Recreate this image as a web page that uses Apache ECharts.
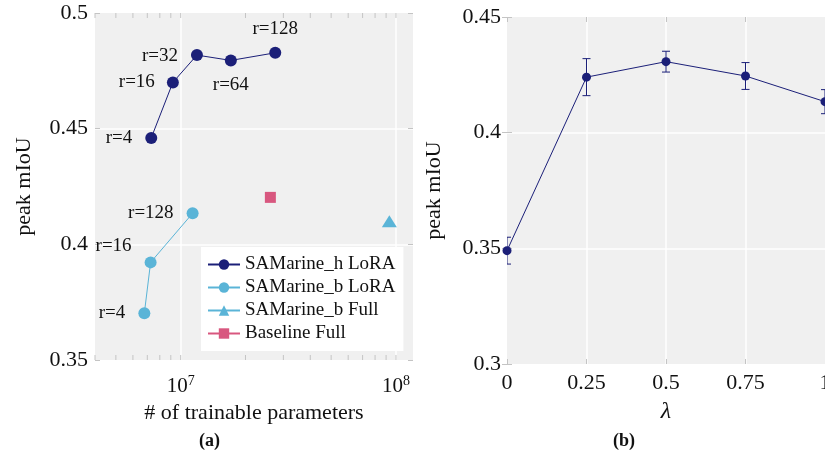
<!DOCTYPE html>
<html>
<head>
<meta charset="utf-8">
<script src="https://cdn.jsdelivr.net/npm/echarts@6/dist/echarts.min.js"></script>
<style>
  html, body { margin: 0; padding: 0; background: #ffffff; }
  #chart { width: 825px; height: 453px; }
</style>
</head>
<body>
<div id="chart"></div>
<script>
// ---------- data (panel a) ----------
const hParams = [7.3e6, 9.2e6, 1.19e7, 1.71e7, 2.75e7];
const hMiou = [0.446, 0.470, 0.4818, 0.4795, 0.4828];
const hRanks = ['r=4', 'r=16', 'r=32', 'r=64', 'r=128'];

const bParams = [6.78e6, 7.25e6, 1.136e7];
const bMiou = [0.3702, 0.3922, 0.4134];
const bRanks = ['r=4', 'r=16', 'r=128'];

const bFullParams = [9.32e7];
const bFullMiou = [0.410];

const baseParams = [2.61e7];
const baseMiou = [0.4203];

const seriesNames = ['SAMarine_h LoRA', 'SAMarine_b LoRA', 'SAMarine_b Full', 'Baseline Full'];
const xTickValues = [4e6, 5e6, 6e6, 7e6, 8e6, 9e6, 1e7, 2e7, 3e7, 4e7, 5e7, 6e7, 7e7, 8e7, 9e7, 1e8];

// ---------- data (panel b) ----------
const lambdas = [0, 0.25, 0.5, 0.75, 1];
const lambdaLabels = ['0', '0.25', '0.5', '0.75', '1'];
const lamMiou = [0.349, 0.424, 0.4307, 0.4245, 0.4134];
const lamErr = [0.0058, 0.008, 0.0045, 0.0058, 0.0052];

// ---------- styling / layout ----------
const NAVY = '#1b1f78';
const LIGHT = '#5ab4d7';
const PINK = '#d8577f';
const BG = '#f0f0f0';
const TICK = '#c4c4c4';
const FONT = '"Liberation Serif", "DejaVu Serif", serif';

const hLabelLayout = [
  { position: 'left', distance: 13, offset: [0, 0] },
  { position: 'left', distance: 12, offset: [0, 0] },
  { position: 'left', distance: 13, offset: [0, 1] },
  { position: 'bottom', distance: 9, offset: [0, 0] },
  { position: 'top', distance: 8, offset: [0, 0] }
];
const bLabelLayout = [
  { position: 'left', distance: 13, offset: [0, 0] },
  { position: 'left', distance: 13, offset: [0, -16] },
  { position: 'left', distance: 13, offset: [0, 0] }
];

const X_MIN = 4e6, X_MAX = 1.2e8, Y_MIN_A = 0.35, Y_MAX_A = 0.5;

function labeled(xs, ys, names, layout) {
  return xs.map((x, i) => ({
    value: [x, ys[i]],
    name: names[i],
    label: {
      show: true,
      formatter: names[i],
      position: layout[i].position,
      distance: layout[i].distance,
      offset: layout[i].offset,
      fontFamily: FONT,
      fontSize: 19,
      color: '#111'
    }
  }));
}

const chart = echarts.init(document.getElementById('chart'), null, { renderer: 'canvas' });

const axisLabelFont = { fontFamily: FONT, fontSize: 22, color: '#111' };

const option = {
  animation: false,
  backgroundColor: '#ffffff',
  grid: [
    { left: 95, top: 13, width: 318, height: 347, show: true, backgroundColor: BG, borderWidth: 0, containLabel: false, outerBoundsMode: 'none' },
    { left: 507, top: 17, width: 318, height: 347, show: true, backgroundColor: BG, borderWidth: 0, containLabel: false, outerBoundsMode: 'none' }
  ],
  legend: {
    orient: 'vertical',
    left: 201,
    top: 247,
    width: 202,
    backgroundColor: '#ffffff',
    padding: [8, 8, 8, 6],
    itemWidth: 32,
    itemHeight: 13,
    itemGap: 4,
    data: seriesNames,
    textStyle: { fontFamily: FONT, fontSize: 19, color: '#111', lineHeight: 19 }
  },
  xAxis: [
    {
      gridIndex: 0, type: 'log', logBase: 10, min: X_MIN, max: X_MAX, position: 'bottom',
      name: '# of trainable parameters', nameLocation: 'middle', nameGap: 42,
      nameTextStyle: { fontFamily: FONT, fontSize: 22, color: '#111' },
      axisLine: { show: false },
      axisTick: { show: false },
      splitLine: { show: true, showMinLine: false, showMaxLine: false, lineStyle: { color: '#ffffff', width: 1.5 } },
      axisLabel: {
        margin: 14,
        formatter: function (v) {
          const e = Math.log10(v);
          if (Math.abs(e - Math.round(e)) < 1e-6) return '10{s|' + Math.round(e) + '}';
          return '';
        },
        fontFamily: FONT, fontSize: 21, color: '#111',
        rich: { s: { fontFamily: FONT, fontSize: 14, color: '#111', verticalAlign: 'top', padding: [0, 0, 10, 0] } }
      }
    },
    {
      gridIndex: 0, type: 'log', logBase: 10, min: X_MIN, max: X_MAX, position: 'top',
      axisLine: { show: false }, axisTick: { show: false }, axisLabel: { show: false }, splitLine: { show: false }
    },
    {
      gridIndex: 1, type: 'value', min: 0, max: 1, interval: 0.25, position: 'bottom',
      name: 'λ', nameLocation: 'middle', nameGap: 36,
      nameTextStyle: { fontFamily: FONT, fontSize: 24, fontStyle: 'italic', color: '#111' },
      axisLine: { show: false },
      axisTick: { show: true, inside: true, length: 5, lineStyle: { color: TICK } },
      splitLine: { show: true, showMinLine: false, showMaxLine: false, lineStyle: { color: '#ffffff', width: 1.5 } },
      axisLabel: Object.assign({ margin: 8, alignMaxLabel: 'center', hideOverlap: false, formatter: function (v) { const k = lambdas.indexOf(v); return k >= 0 ? lambdaLabels[k] : String(v); } }, axisLabelFont)
    },
    {
      gridIndex: 1, type: 'value', min: 0, max: 1, interval: 0.25, position: 'top',
      axisLine: { show: false },
      axisTick: { show: true, inside: true, length: 5, lineStyle: { color: TICK } },
      axisLabel: { show: false }, splitLine: { show: false }
    }
  ],
  yAxis: [
    {
      gridIndex: 0, type: 'value', min: Y_MIN_A, max: Y_MAX_A, interval: 0.05, position: 'left',
      name: 'peak mIoU', nameLocation: 'middle', nameGap: 60,
      nameTextStyle: { fontFamily: FONT, fontSize: 22, color: '#111' },
      axisLine: { show: false },
      axisTick: { show: true, inside: true, length: 5, lineStyle: { color: TICK } },
      splitLine: { show: true, showMinLine: false, showMaxLine: false, lineStyle: { color: '#ffffff', width: 1.5 } },
      axisLabel: Object.assign({ margin: 7 }, axisLabelFont)
    },
    {
      gridIndex: 0, type: 'value', min: Y_MIN_A, max: Y_MAX_A, interval: 0.05, position: 'right',
      axisLine: { show: false },
      axisTick: { show: true, inside: true, length: 5, lineStyle: { color: TICK } },
      axisLabel: { show: false }, splitLine: { show: false }
    },
    {
      gridIndex: 1, type: 'value', min: 0.3, max: 0.45, interval: 0.05, position: 'left',
      name: 'peak mIoU', nameLocation: 'middle', nameGap: 62,
      nameTextStyle: { fontFamily: FONT, fontSize: 22, color: '#111' },
      axisLine: { show: false },
      axisTick: { show: true, inside: true, length: 5, lineStyle: { color: TICK } },
      splitLine: { show: true, showMinLine: false, showMaxLine: false, lineStyle: { color: '#ffffff', width: 1.5 } },
      axisLabel: Object.assign({ margin: 6 }, axisLabelFont)
    },
    {
      gridIndex: 1, type: 'value', min: 0.3, max: 0.45, interval: 0.05, position: 'right',
      axisLine: { show: false },
      axisTick: { show: true, inside: true, length: 5, lineStyle: { color: TICK } },
      axisLabel: { show: false }, splitLine: { show: false }
    }
  ],
  series: [
    {
      type: 'custom', name: 'xticks', xAxisIndex: 0, yAxisIndex: 0, silent: true, z: 1,
      data: xTickValues.map(v => [v, Y_MIN_A]),
      renderItem: function (params, api) {
        const v = api.value(0);
        const b = api.coord([v, Y_MIN_A]);
        const t = api.coord([v, Y_MAX_A]);
        const st = { stroke: TICK, lineWidth: 1 };
        return {
          type: 'group',
          children: [
            { type: 'line', shape: { x1: b[0], y1: b[1], x2: b[0], y2: b[1] - 5 }, style: st },
            { type: 'line', shape: { x1: t[0], y1: t[1], x2: t[0], y2: t[1] + 5 }, style: st }
          ]
        };
      }
    },
    {
      type: 'line', name: seriesNames[0], xAxisIndex: 0, yAxisIndex: 0, z: 5,
      data: labeled(hParams, hMiou, hRanks, hLabelLayout),
      symbol: 'circle', symbolSize: 12,
      itemStyle: { color: NAVY },
      lineStyle: { color: NAVY, width: 1 }
    },
    {
      type: 'line', name: seriesNames[1], xAxisIndex: 0, yAxisIndex: 0, z: 5,
      data: labeled(bParams, bMiou, bRanks, bLabelLayout),
      symbol: 'circle', symbolSize: 12,
      itemStyle: { color: LIGHT },
      lineStyle: { color: LIGHT, width: 1 }
    },
    {
      type: 'line', name: seriesNames[2], xAxisIndex: 0, yAxisIndex: 0, z: 5,
      data: bFullParams.map((x, i) => [x, bFullMiou[i]]),
      symbol: 'triangle', symbolSize: [15, 12],
      itemStyle: { color: LIGHT },
      lineStyle: { color: LIGHT, width: 1 }
    },
    {
      type: 'line', name: seriesNames[3], xAxisIndex: 0, yAxisIndex: 0, z: 5,
      data: baseParams.map((x, i) => [x, baseMiou[i]]),
      symbol: 'rect', symbolSize: 11,
      itemStyle: { color: PINK },
      lineStyle: { color: PINK, width: 1 }
    },
    {
      type: 'custom', name: 'errbars', xAxisIndex: 2, yAxisIndex: 2, silent: true, z: 4, clip: true,
      data: lambdas.map((x, i) => [x, lamMiou[i] - lamErr[i], lamMiou[i] + lamErr[i]]),
      renderItem: function (params, api) {
        const lo = api.coord([api.value(0), api.value(1)]);
        const hi = api.coord([api.value(0), api.value(2)]);
        const w = 4;
        const st = { stroke: NAVY, lineWidth: 1 };
        const left = params.coordSys.x;
        const right = params.coordSys.x + params.coordSys.width;
        const x1 = Math.max(lo[0] - w, left), x2 = Math.min(lo[0] + w, right);
        return {
          type: 'group',
          children: [
            { type: 'line', shape: { x1: lo[0], y1: lo[1], x2: hi[0], y2: hi[1] }, style: st },
            { type: 'line', shape: { x1: x1, y1: lo[1], x2: x2, y2: lo[1] }, style: st },
            { type: 'line', shape: { x1: x1, y1: hi[1], x2: x2, y2: hi[1] }, style: st }
          ]
        };
      }
    },
    {
      type: 'line', name: 'lambda', xAxisIndex: 2, yAxisIndex: 2, z: 5,
      data: lambdas.map((x, i) => [x, lamMiou[i]]),
      symbol: 'circle', symbolSize: 9,
      itemStyle: { color: NAVY },
      lineStyle: { color: NAVY, width: 1 }
    }
  ],
  graphic: [
    { type: 'text', left: 199, top: 432, style: { text: '(a)', fontFamily: FONT, fontSize: 18, fontWeight: 'bold', fill: '#111' } },
    { type: 'text', left: 613, top: 432, style: { text: '(b)', fontFamily: FONT, fontSize: 18, fontWeight: 'bold', fill: '#111' } }
  ]
};

chart.setOption(option);
</script>
</body>
</html>
